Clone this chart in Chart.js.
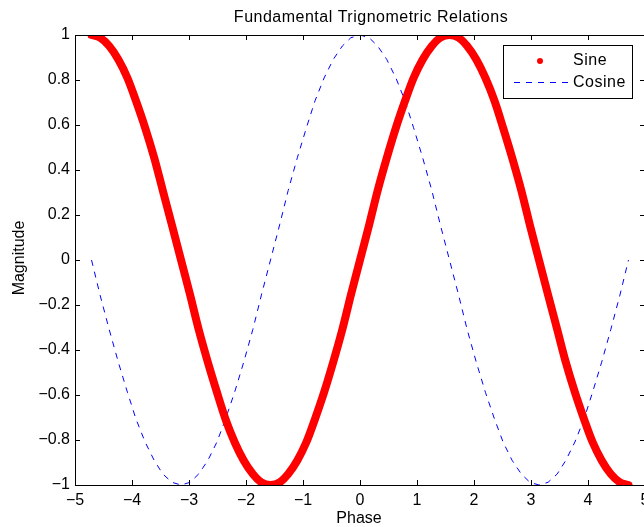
<!DOCTYPE html>
<html>
<head>
<meta charset="utf-8">
<script src="https://cdn.jsdelivr.net/npm/chart.js@4/dist/chart.umd.min.js"></script>
<style>
  html, body { margin: 0; padding: 0; background: #fff; overflow: hidden; }
  #wrap { width: 700px; height: 527px; }
</style>
</head>
<body>
<div id="wrap"><canvas id="trigChart" width="700" height="527"></canvas></div>
<script>
// phase samples (rad) and the two curves
const phase = [-4.71, -4.56, -4.40, -4.24, -4.08, -3.93, -3.77, -3.61, -3.46, -3.30,
  -3.14, -2.98, -2.83, -2.67, -2.51, -2.36, -2.20, -2.04, -1.88, -1.73,
  -1.57, -1.41, -1.26, -1.10, -0.94, -0.79, -0.63, -0.47, -0.31, -0.16,
  0, 0.16, 0.31, 0.47, 0.63, 0.79, 0.94, 1.10, 1.26, 1.41,
  1.57, 1.73, 1.88, 2.04, 2.20, 2.36, 2.51, 2.67, 2.83, 2.98,
  3.14, 3.30, 3.46, 3.61, 3.77, 3.93, 4.08, 4.24, 4.40, 4.56, 4.71];
const sine = [1, .988, .951, .891, .809, .707, .588, .454, .309, .156,
  0, -.156, -.309, -.454, -.588, -.707, -.809, -.891, -.951, -.988,
  -1, -.988, -.951, -.891, -.809, -.707, -.588, -.454, -.309, -.156,
  0, .156, .309, .454, .588, .707, .809, .891, .951, .988,
  1, .988, .951, .891, .809, .707, .588, .454, .309, .156,
  0, -.156, -.309, -.454, -.588, -.707, -.809, -.891, -.951, -.988, -1];
const cosine = [0, -.156, -.309, -.454, -.588, -.707, -.809, -.891, -.951, -.988,
  -1, -.988, -.951, -.891, -.809, -.707, -.588, -.454, -.309, -.156,
  0, .156, .309, .454, .588, .707, .809, .891, .951, .988,
  1, .988, .951, .891, .809, .707, .588, .454, .309, .156,
  0, -.156, -.309, -.454, -.588, -.707, -.809, -.891, -.951, -.988,
  -1, -.988, -.951, -.891, -.809, -.707, -.588, -.454, -.309, -.156, 0];
const xTicks = [-5, -4, -3, -2, -1, 0, 1, 2, 3, 4, 5];
const yTicks = [-1, -0.8, -0.6, -0.4, -0.2, 0, 0.2, 0.4, 0.6, 0.8, 1];
const seriesNames = ["Sine", "Cosine"];
const titleText = "Fundamental Trignometric Relations";
const xLabel = "Phase";
const yLabel = "Magnitude";

const FONT = "Liberation Sans, Arial, Helvetica, sans-serif";
const minus = v => String(v).replace("-", "\u2212");

const matlabAxes = {
  id: "matlabAxes",
  afterDraw(chart) {
    const { ctx, chartArea: a, scales } = chart;
    ctx.save();
    ctx.strokeStyle = "#000";
    ctx.lineWidth = 1;
    // box
    ctx.strokeRect(Math.round(a.left) + 0.5, Math.round(a.top) + 0.5,
      Math.round(a.right - a.left), Math.round(a.bottom - a.top));
    // inward ticks, mirrored
    ctx.beginPath();
    xTicks.forEach(v => {
      const px = Math.round(scales.x.getPixelForValue(v)) + 0.5;
      ctx.moveTo(px, a.bottom); ctx.lineTo(px, a.bottom - 5);
      ctx.moveTo(px, a.top); ctx.lineTo(px, a.top + 5);
    });
    yTicks.forEach(v => {
      const py = Math.round(scales.y.getPixelForValue(v)) + 0.5;
      ctx.moveTo(a.left, py); ctx.lineTo(a.left + 5, py);
      ctx.moveTo(a.right, py); ctx.lineTo(a.right - 5, py);
    });
    ctx.stroke();

    // title and axis labels
    ctx.fillStyle = "#000";
    ctx.letterSpacing = "0.5px";
    ctx.font = "16px " + FONT;
    ctx.textAlign = "center";
    ctx.textBaseline = "middle";
    ctx.fillText(titleText, 371, 18);
    ctx.letterSpacing = "0px";
    ctx.fillText(xLabel, 359, 519);
    ctx.save();
    ctx.translate(20, 258);
    ctx.rotate(-Math.PI / 2);
    ctx.fillText(yLabel, 0, 0);
    ctx.restore();

    // legend
    ctx.fillStyle = "#fff";
    ctx.fillRect(503, 45, 129, 53);
    ctx.strokeRect(503.5, 45.5, 129, 53);
    ctx.fillStyle = "#ff0000";
    ctx.beginPath();
    ctx.arc(540, 61, 3, 0, Math.PI * 2);
    ctx.fill();
    ctx.strokeStyle = "#0000ff";
    ctx.setLineDash([6, 6]);
    ctx.beginPath();
    ctx.moveTo(514, 82.5); ctx.lineTo(568, 82.5);
    ctx.stroke();
    ctx.setLineDash([]);
    ctx.fillStyle = "#000";
    ctx.font = "16px " + FONT;
    ctx.letterSpacing = "0.5px";
    ctx.textAlign = "left";
    ctx.fillText(seriesNames[0], 573, 61);
    ctx.fillText(seriesNames[1], 573, 83);
    ctx.restore();
  }
};

const ctx = document.getElementById("trigChart").getContext("2d");
new Chart(ctx, {
  type: "line",
  data: {
    labels: phase,
    datasets: [{
      label: seriesNames[0],
      data: phase.map((x, i) => ({ x: x, y: sine[i] })),
      borderColor: "#ff0000",
      borderWidth: 8,
      borderCapStyle: "round",
      borderJoinStyle: "round",
      pointRadius: 0,
      tension: 0.3
    }, {
      label: seriesNames[1],
      data: phase.map((x, i) => ({ x: x, y: cosine[i] })),
      borderColor: "#0000ff",
      borderWidth: 1,
      borderDash: [6, 6],
      pointRadius: 0,
      tension: 0
    }]
  },
  options: {
    responsive: false,
    animation: false,
    devicePixelRatio: 1,
    layout: { padding: { left: 0, top: 35, right: 55, bottom: 0 } },
    plugins: { legend: { display: false }, tooltip: { enabled: false } },
    scales: {
      x: {
        type: "linear", min: -5, max: 5,
        afterBuildTicks: s => { s.ticks = xTicks.map(v => ({ value: v })); },
        afterFit: s => { s.height = 42; },
        grid: { display: false, drawTicks: false },
        border: { display: false },
        ticks: { padding: 6, color: "#000", font: { family: FONT, size: 16 },
          callback: v => minus(v) }
      },
      y: {
        type: "linear", min: -1, max: 1,
        afterBuildTicks: s => { s.ticks = yTicks.map(v => ({ value: v })); },
        afterFit: s => { s.width = 75; },
        grid: { display: false, drawTicks: false },
        border: { display: false },
        ticks: { padding: 5, color: "#000", font: { family: FONT, size: 16 },
          callback: v => minus(v) }
      }
    }
  },
  plugins: [matlabAxes]
});
</script>
</body>
</html>
